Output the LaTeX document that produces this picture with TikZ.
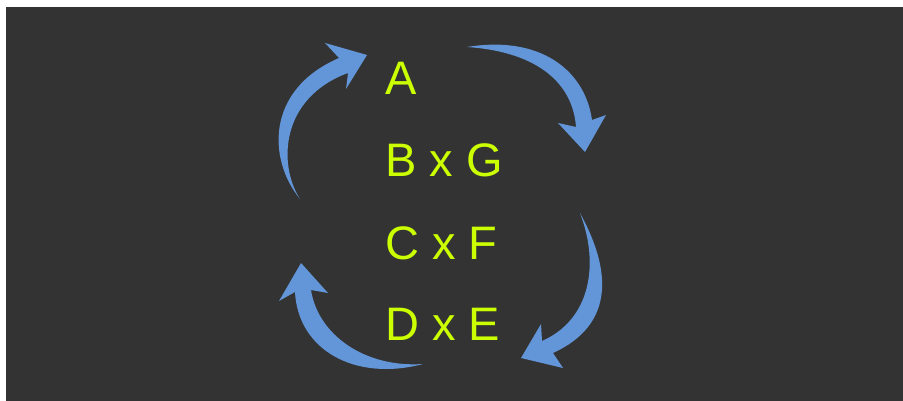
\documentclass[tikz,border=0pt]{standalone}
\usepackage{fontspec}
\setmainfont{Liberation Sans}
\definecolor{bgdark}{RGB}{51,51,51}
\definecolor{arrowblue}{RGB}{98,150,216}
\definecolor{lettergreen}{RGB}{204,255,0}
\begin{document}
\begin{tikzpicture}[x=1pt,y=-1pt,
  letters/.style={anchor=base west,inner sep=0pt,text=lettergreen,font=\fontsize{47}{56}\selectfont},
  bluearrow/.style={fill=arrowblue,draw=none}]
\useasboundingbox (0,0) rectangle (903,401);
\fill[white] (0,0) rectangle (903,401);
\fill[bgdark] (6,7) rectangle (903,401);
% letters
\node[letters] (a) at (385,95) {A};
\node[letters] (bg) at (385,177) {B x G};
\node[letters] (cf) at (385,259) {C x F};
\node[letters] (de) at (385,340) {D x E};
% arrow 1: top-left, up to A
\fill[bluearrow] (300,199) .. controls (268,160) and (265,90) .. (339,58)
  -- (325,43) -- (367,55) -- (346,89) -- (348,73)
  .. controls (280,98) and (278,165) .. (300,199) -- cycle;
% arrow 2: top-right, down towards B x G
\fill[bluearrow] (467,47) .. controls (540,35) and (585,70) .. (592,120)
  -- (606,115) -- (585,152) -- (558,123) -- (576,127)
  .. controls (573,85) and (540,52) .. (467,47) -- cycle;
% arrow 3: right lower, down to D x E
\fill[bluearrow] (580,213) .. controls (603,255) and (625,320) .. (553,353)
  -- (563,368) -- (521,358) -- (541,324) -- (542,341)
  .. controls (590,320) and (600,265) .. (580,213) -- cycle;
% arrow 4: bottom-left, up to C x F
\fill[bluearrow] (423,364) .. controls (355,382) and (298,350) .. (295,292)
  -- (279,301) -- (301,263) -- (328,293) -- (311,290)
  .. controls (318,335) and (365,368) .. (423,364) -- cycle;
\end{tikzpicture}
\end{document}
